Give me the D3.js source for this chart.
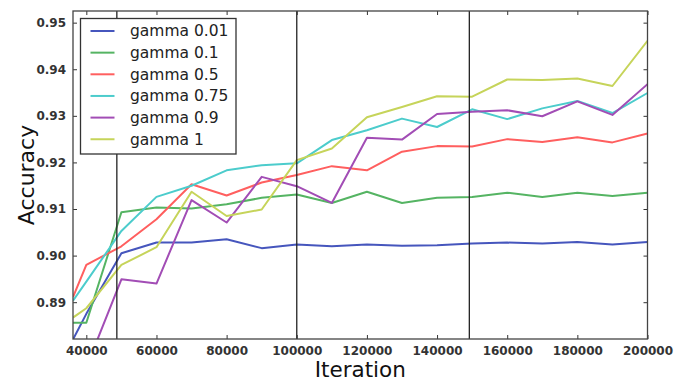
<!DOCTYPE html>
<html>
<head>
<meta charset="utf-8">
<script src="https://cdn.jsdelivr.net/npm/d3@7"></script>
<style>
  body { margin: 0; background: #fff; }
  svg text { font-family: "DejaVu Sans", sans-serif; }
  .axis path { display: none; }
  .axis line { stroke: #333; stroke-width: 1; }
  .axis text { fill: #333; font-size: 12px; font-weight: bold; }
</style>
</head>
<body>
<div id="chart"></div>
<script>
// iterations (first point sits on the left edge of the plot)
const iterations = [36200, 40000, 50000, 60000, 70000, 80000, 90000, 100000, 110000,
  120000, 130000, 140000, 150000, 160000, 170000, 180000, 190000, 200000];

const gamma001 = [0.8820, 0.8875, 0.9005, 0.9028, 0.9028, 0.9035, 0.9016, 0.9024, 0.9020,
  0.9024, 0.9021, 0.9022, 0.9026, 0.9028, 0.9026, 0.9029, 0.9024, 0.9029];
const gamma01 = [0.8856, 0.8856, 0.9093, 0.9103, 0.9101, 0.9110, 0.9124, 0.9131, 0.9113,
  0.9137, 0.9113, 0.9124, 0.9126, 0.9135, 0.9126, 0.9135, 0.9128, 0.9135];
const gamma05 = [0.8911, 0.8980, 0.9020, 0.9078, 0.9153, 0.9129, 0.9157, 0.9173, 0.9192,
  0.9183, 0.9223, 0.9235, 0.9234, 0.9250, 0.9244, 0.9254, 0.9243, 0.9262];
const gamma075 = [0.8903, 0.8944, 0.9053, 0.9126, 0.9150, 0.9183, 0.9194, 0.9198, 0.9248,
  0.9269, 0.9294, 0.9276, 0.9314, 0.9293, 0.9316, 0.9332, 0.9306, 0.9349];
const gamma09 = [0.8700, 0.8760, 0.8949, 0.8940, 0.9119, 0.9071, 0.9169, 0.9149, 0.9113,
  0.9253, 0.9249, 0.9304, 0.9309, 0.9312, 0.9299, 0.9331, 0.9302, 0.9368];
const gamma1 = [0.8867, 0.8887, 0.8980, 0.9018, 0.9137, 0.9085, 0.9099, 0.9205, 0.9230,
  0.9297, 0.9319, 0.9342, 0.9341, 0.9378, 0.9377, 0.9380, 0.9364, 0.9461];

const seriesNames = ["gamma 0.01", "gamma 0.1", "gamma 0.5", "gamma 0.75", "gamma 0.9", "gamma 1"];
const seriesValues = [gamma001, gamma01, gamma05, gamma075, gamma09, gamma1];
const seriesColors = ["#4656bd", "#55b463", "#ff5f5f", "#4ccccc", "#a24db5", "#c6d45a"];

// vertical marker lines
const markers = [48700, 100000, 149200];

const xTicks = [40000, 60000, 80000, 100000, 120000, 140000, 160000, 180000, 200000];
const yTicks = [0.89, 0.90, 0.91, 0.92, 0.93, 0.94, 0.95];

const margin = { top: 11, right: 34.5, bottom: 42, left: 73 };
const W = 682, H = 381;
const width = W - margin.left - margin.right;
const height = H - margin.top - margin.bottom;

const svg = d3.select('#chart').append('svg')
  .attr('width', W)
  .attr('height', H);

const g = svg.append('g')
  .attr('transform', `translate(${margin.left},${margin.top})`);

const x = d3.scaleLinear().domain([36200, 200000]).range([0, width]);
const y = d3.scaleLinear().domain([0.8821, 0.9525]).range([height, 0]);

// clip so lines that run past the axes get cut like matplotlib
g.append('clipPath').attr('id', 'clip')
  .append('rect').attr('width', width).attr('height', height);

const marks = g.append('g').attr('clip-path', 'url(#clip)');

const line = d3.line()
  .x((d, i) => x(iterations[i]))
  .y(d => y(d));

seriesValues.forEach((vals, k) => {
  marks.append('path')
    .datum(vals)
    .attr('fill', 'none')
    .attr('stroke', seriesColors[k])
    .attr('stroke-width', 2)
    .attr('stroke-linejoin', 'round')
    .attr('d', line);
});

marks.selectAll('.marker')
  .data(markers)
  .enter().append('line')
  .attr('class', 'marker')
  .attr('x1', d => x(d)).attr('x2', d => x(d))
  .attr('y1', 0).attr('y2', height)
  .attr('stroke', '#222')
  .attr('stroke-width', 1.3);

// axes with inward ticks on all four sides
g.append('g').attr('class', 'axis')
  .attr('transform', `translate(0,${height})`)
  .call(d3.axisBottom(x).tickValues(xTicks).tickSize(-4).tickPadding(7).tickFormat(d3.format('d')));
g.append('g').attr('class', 'axis')
  .call(d3.axisTop(x).tickValues(xTicks).tickSize(-4).tickFormat(''));
g.append('g').attr('class', 'axis')
  .call(d3.axisLeft(y).tickValues(yTicks).tickSize(-4).tickPadding(7).tickFormat(d3.format('.2f')));
g.append('g').attr('class', 'axis')
  .attr('transform', `translate(${width},0)`)
  .call(d3.axisRight(y).tickValues(yTicks).tickSize(-4).tickFormat(''));

// frame
g.append('rect')
  .attr('width', width).attr('height', height)
  .attr('fill', 'none')
  .attr('stroke', '#444')
  .attr('stroke-width', 1.3);

// axis titles
svg.append('text')
  .attr('x', margin.left + width / 2)
  .attr('y', 377)
  .attr('text-anchor', 'middle')
  .style('font-size', '21.5px')
  .style('fill', '#111')
  .text('Iteration');

svg.append('text')
  .attr('transform', `translate(34,${margin.top + height / 2}) rotate(-90)`)
  .attr('text-anchor', 'middle')
  .style('font-size', '22px')
  .style('fill', '#111')
  .text('Accuracy');

// legend
const legend = svg.append('g').attr('transform', 'translate(80.5,18.5)');
legend.append('rect')
  .attr('width', 155.5).attr('height', 135.5)
  .attr('fill', '#fff')
  .attr('stroke', '#333')
  .attr('stroke-width', 1.3);

const items = legend.selectAll('.legend-item')
  .data(seriesNames)
  .enter().append('g')
  .attr('class', 'legend-item')
  .attr('transform', (d, i) => `translate(0,${12.5 + i * 21.65})`);

items.append('line')
  .attr('x1', 10).attr('x2', 34)
  .attr('stroke', (d, i) => seriesColors[i])
  .attr('stroke-width', 2);

items.append('text')
  .attr('x', 49.5)
  .attr('dy', '0.35em')
  .style('font-size', '15.5px')
  .style('fill', '#222')
  .text(d => d);
</script>
</body>
</html>
